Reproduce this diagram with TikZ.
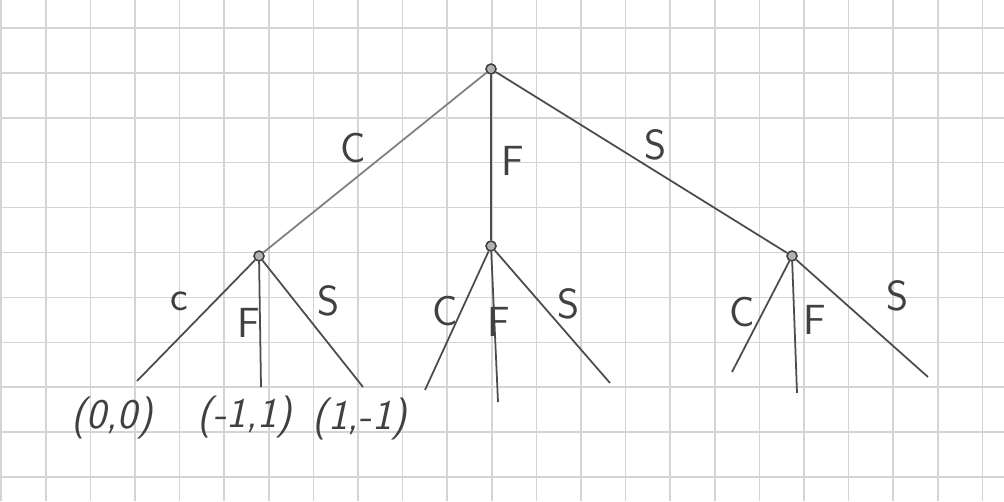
\documentclass[tikz,border=0pt]{standalone}
\begin{document}
\begin{tikzpicture}[x=0.02cm, y=-0.02cm,
    gitter/.style={black!17, line width=0.9pt},
    zweig/.style={black!70, line width=1pt},
    knoten/.style={circle, draw=black!75, fill=black!30, line width=0.9pt, inner sep=0pt, minimum size=0.2cm},
    zug/.style={font=\sffamily\fontsize{24}{26}\selectfont, text=black!75, inner sep=0pt},
    auszahlung/.style={font=\sffamily\itshape\fontsize{24}{26}\selectfont, text=black!75, inner sep=0pt}]
    \useasboundingbox (0,0) rectangle (1004,501);
    \fill[white] (0,0) rectangle (1004,501);

    % Karopapier
    \foreach \i in {0,...,22} {
        \draw[gitter] ({1.2+44.6*\i},0) -- ({1.2+44.6*\i},501);
    }
    \foreach \j in {0,...,10} {
        \draw[gitter] (0,{28+44.9*\j}) -- (1004,{28+44.9*\j});
    }

    % Knoten
    \node[knoten] (K0) at (491,69) {};
    \node[knoten] (KC) at (259,256) {};
    \node[knoten] (KF) at (491,246) {};
    \node[knoten] (KS) at (792,256) {};

    % Blaetter
    \coordinate (CC) at (137,381);
    \coordinate (CF) at (261,387);
    \coordinate (CS) at (363,387);
    \coordinate (FC) at (425,390);
    \coordinate (FF) at (498,402);
    \coordinate (FS) at (610,383);
    \coordinate (SC) at (732,372);
    \coordinate (SF) at (797,393);
    \coordinate (SS) at (928,377);

    % Zweige
    \draw[zweig, black!50] (K0) -- (KC);
    \draw[zweig] (K0) -- (KF);
    \draw[zweig] (K0) -- (KS);
    \draw[zweig] (KC) -- (CC);
    \draw[zweig] (KC) -- (CF);
    \draw[zweig] (KC) -- (CS);
    \draw[zweig] (KF) -- (FC);
    \draw[zweig] (KF) -- (FF);
    \draw[zweig] (KF) -- (FS);
    \draw[zweig] (KS) -- (SC);
    \draw[zweig] (KS) -- (SF);
    \draw[zweig] (KS) -- (SS);

    % Zuege
    \node[zug] (zC) at (353,148) {C};
    \node[zug] (zF) at (513,161) {F};
    \node[zug] (zS) at (655,145) {S};
    \node[zug] (zCC) at (179,301) {c};
    \node[zug] (zCF) at (249,323) {F};
    \node[zug] (zCS) at (329,301) {S};
    \node[zug] (zFC) at (445,311) {C};
    \node[zug] (zFF) at (499,322) {F};
    \node[zug] (zFS) at (568,304) {S};
    \node[zug] (zSC) at (742,312) {C};
    \node[zug] (zSF) at (815,320) {F};
    \node[zug] (zSS) at (897,296) {S};

    % Auszahlungen
    \node[auszahlung] (aC) at (112,418) {(0,0)};
    \node[auszahlung] (aF) at (245,417) {(-1,1)};
    \node[auszahlung] (aS) at (360,419) {(1,-1)};
\end{tikzpicture}
\end{document}
